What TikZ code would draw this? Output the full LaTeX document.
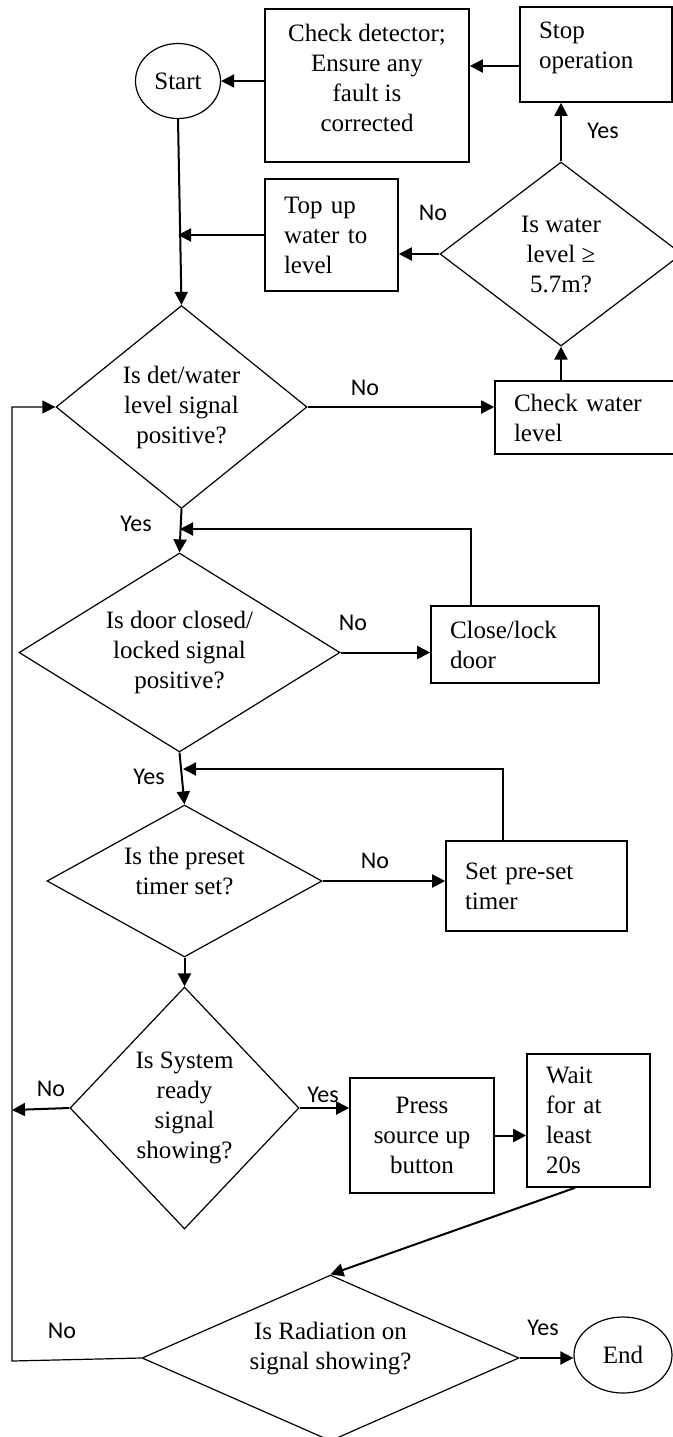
\documentclass[tikz,border=0pt]{standalone}
\usepackage{fontspec}
\setmainfont{Liberation Serif}
\newfontfamily\lblfont{Carlito}
\usetikzlibrary{shapes.geometric,arrows.meta,positioning,calc}

\begin{document}
\begin{tikzpicture}[x=0.5pt, y=-0.5pt,
    every node/.style={font=\fontsize{12.5}{15}\selectfont},
    box/.style={draw, line width=0.8pt, inner sep=0pt, align=center},
    lbox/.style={draw, line width=0.8pt, inner xsep=9.5pt, inner ysep=0pt, align=left},
    decision/.style={draw, diamond, line width=0.6pt, inner sep=0pt, align=center},
    term/.style={draw, ellipse, line width=0.6pt, inner sep=0pt},
    arr/.style={line width=1pt, -{Triangle[length=6.5pt,width=6.5pt]}},
    loopline/.style={line width=0.6pt, -{Triangle[length=6.5pt,width=6.5pt]}},
    lbl/.style={font=\lblfont\fontsize{12}{14}\selectfont}]
    \useasboundingbox (0,0) rectangle (673,1437);
    % Top row
    \node[term, minimum width=42.5pt, minimum height=37.5pt] (start) at (178,81) {Start};
    \node[box, minimum width=102pt, minimum height=76.5pt] (detector) at (367,85.5) {Check detector;\\Ensure any\\fault is\\corrected\\[-7pt]\mbox{}};
    \node[lbox, text width=57pt, minimum height=47.5pt] (stopop) at (596,54.5) {Stop\\operation\\[-6pt]\mbox{}};
    % Water level check
    \node[decision, aspect=1.32, minimum width=121pt, minimum height=92pt] (water) at (561,254) {Is water\\level ≥\\5.7m?};
    \node[lbox, text width=47.5pt, minimum height=56pt] (topup) at (331.5,235) {Top up\\water to\\level};
    \node[decision, aspect=1.24, minimum width=125.5pt, minimum height=101.5pt] (detsig) at (181.5,407) {Is det/water\\level signal\\positive?};
    \node[lbox, text width=73.5pt, minimum height=36.5pt] (checkwater) at (587.5,417.5) {Check water\\level};
    % Door
    \node[decision, aspect=1.61, minimum width=160.5pt, minimum height=99.5pt] (door) at (179.5,652.5) {Is door closed/\\locked signal\\positive?};
    \node[lbox, text width=65pt, minimum height=38.5pt] (closelock) at (515,644.5) {Close/lock\\door};
    % Timer
    \node[decision, aspect=1.81, minimum width=137.5pt, minimum height=76pt] (timer) at (184.5,881) {Is the preset\\timer set?\\[-5pt]\mbox{}};
    \node[lbox, text width=71.5pt, minimum height=45pt] (settimer) at (536.5,886) {Set pre-set\\timer};
    % System ready
    \node[decision, aspect=0.95, minimum width=114.5pt, minimum height=121pt] (ready) at (184.5,1108) {Is System\\ready\\signal\\showing?};
    \node[box, minimum width=72pt, minimum height=57.5pt] (press) at (422,1135.5) {Press\\source up\\button};
    \node[lbox, text width=42.5pt, minimum height=66.5pt] (wait) at (588.5,1120.5) {Wait\\for at\\least\\20s};
    % Radiation
    \node[decision, aspect=2.27, minimum width=188.5pt, minimum height=83pt] (radiation) at (330.5,1358) {Is Radiation on\\signal showing?\\[-3pt]\mbox{}};
    \node[term, minimum width=49pt, minimum height=38pt] (finish) at (623,1355) {End};
    % Junctions
    \coordinate (j1) at (180,529);
    \coordinate (j2) at (183,769);
    \coordinate (lft) at (12,1110);
    \coordinate (loop) at (12,1361);
    % Connectors
    \draw[arr] (stopop.west |- 0,66) -- (detector.east |- 0,66);
    \draw[arr] (detector.west |- start) -- (start);
    \draw[arr] (water.north) -- (water.north |- stopop.south);
    \draw[arr] (water.west) -- (water.west -| topup.east);
    \draw[arr] (topup.west) -- (topup.west -| start.south);
    \draw[arr] (start.south) -- (detsig.north);
    \draw[arr] (detsig.east) -- (detsig.east -| checkwater.west);
    \draw[arr] (water.south |- checkwater.north) -- (water.south);
    \draw[arr] (detsig.south) -- (door.north);
    \draw[arr] ([xshift=-22pt]closelock.north) |- (j1);
    \draw[arr] (door.east) -- (door.east -| closelock.west);
    \draw[arr] (door.south) -- (timer.north);
    \draw[arr] ([xshift=-16.75pt]settimer.north) |- (j2);
    \draw[arr] (timer.east) -- (timer.east -| settimer.west);
    \draw[arr] (timer.south) -- (ready.north);
    \draw[arr] (ready.west) -- (lft);
    \draw[arr] (ready.east) -- (ready.east -| press.west);
    \draw[arr] (press.east) -- (press.east -| wait.west);
    \draw[arr] ([xshift=-6.75pt]wait.south) -- (radiation.north);
    \draw[loopline] (radiation.west) -- (loop) |- (detsig.west);
    \draw[arr] (radiation.east) -- (radiation.east -| finish.west);
    % Labels
    \node[lbl] (y1) at (603,131) {Yes};
    \node[lbl] (n1) at (433,213) {No};
    \node[lbl] (n2) at (365,388) {No};
    \node[lbl] (y2) at (136,524) {Yes};
    \node[lbl] (n3) at (353,623) {No};
    \node[lbl] (y3) at (149,777) {Yes};
    \node[lbl] (n4) at (375,861) {No};
    \node[lbl] (n5) at (51,1089) {No};
    \node[lbl] (y4) at (323,1095) {Yes};
    \node[lbl] (n6) at (62,1331) {No};
    \node[lbl] (y5) at (543,1328) {Yes};
\end{tikzpicture}
\end{document}
